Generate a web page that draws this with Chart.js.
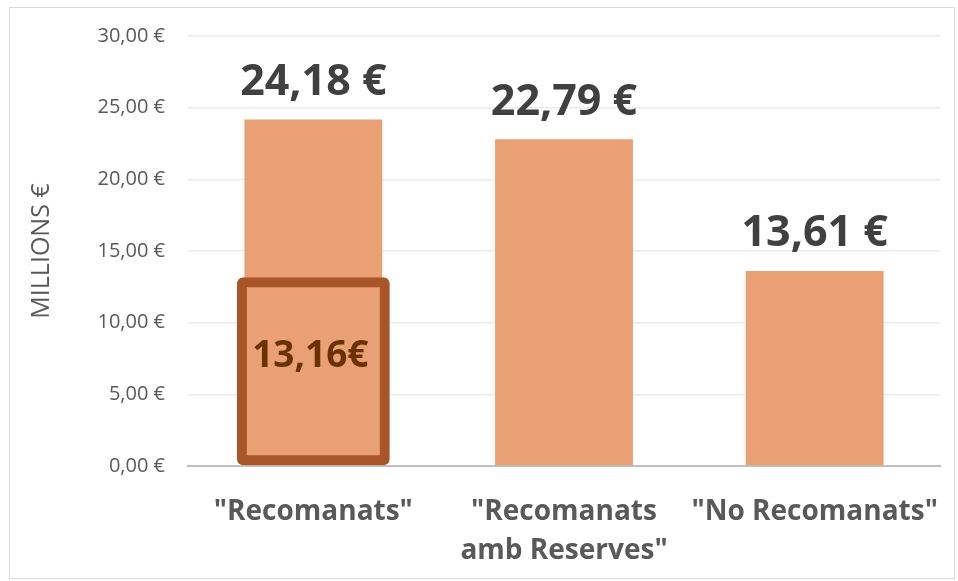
<!DOCTYPE html>
<html>
<head>
<meta charset="utf-8">
<script src="https://cdn.jsdelivr.net/npm/chart.js@4/dist/chart.umd.min.js"></script>
<style>
  html, body { margin: 0; padding: 0; background: #ffffff; }
  #wrap { width: 958px; height: 581px; position: relative; }
</style>
</head>
<body>
<div id="wrap"><canvas id="c" width="958" height="581"></canvas></div>
<script>
const categories = [['"Recomanats"'], ['"Recomanats', 'amb Reserves"'], ['"No Recomanats"']];
const totals = [24.18, 22.79, 13.61];
const valueLabels = ['24,18 €', '22,79 €', '13,61 €'];
const highlight = [13.16, null, null];
const highlightLabels = ['13,16€', '', ''];
const yTickLabels = ['0,00 €', '5,00 €', '10,00 €', '15,00 €', '20,00 €', '25,00 €', '30,00 €'];
const yAxisTitle = 'MILLIONS €';

const FONT = '"Open Sans", "Noto Sans", sans-serif';

const bgBorder = {
  id: 'bgBorder',
  beforeDraw(chart) {
    const ctx = chart.ctx;
    ctx.save();
    ctx.fillStyle = '#ffffff';
    ctx.fillRect(0, 0, chart.width, chart.height);
    ctx.strokeStyle = '#D9D9D9';
    ctx.lineWidth = 1;
    ctx.strokeRect(9.5, 7.5, 945, 571);
    ctx.restore();
  }
};

const labelsPlugin = {
  id: 'labelsPlugin',
  afterDatasetsDraw(chart) {
    const ctx = chart.ctx;
    ctx.save();
    ctx.textAlign = 'center';
    ctx.textBaseline = 'middle';
    const m0 = chart.getDatasetMeta(0);
    m0.data.forEach((el, i) => {
      ctx.font = 'bold 43px ' + FONT;
      ctx.fillStyle = '#404040';
      ctx.fillText(valueLabels[i], el.x, el.y - 37);
    });
    const m1 = chart.getDatasetMeta(1);
    m1.data.forEach((el, i) => {
      if (highlight[i] == null) return;
      ctx.font = 'bold 37px ' + FONT;
      ctx.fillStyle = '#6B3200';
      ctx.fillText(highlightLabels[i], el.x - 3, el.y + (el.base - el.y) * 0.42);
    });
    ctx.restore();
  }
};

new Chart(document.getElementById('c'), {
  type: 'bar',
  data: {
    labels: categories,
    datasets: [
      {
        data: totals,
        backgroundColor: 'rgb(233,160,117)',
        barPercentage: 0.55,
        categoryPercentage: 1,
        grouped: false,
        order: 2
      },
      {
        data: highlight,
        backgroundColor: 'rgba(0,0,0,0)',
        borderColor: '#A9552A',
        borderWidth: 10,
        borderRadius: 6,
        borderSkipped: false,
        barPercentage: 0.61,
        categoryPercentage: 1,
        grouped: false,
        order: 1
      }
    ]
  },
  options: {
    responsive: false,
    animation: false,
    devicePixelRatio: 1,
    layout: { padding: { top: 36, right: 18, left: 0, bottom: 0 } },
    plugins: {
      legend: { display: false },
      tooltip: { enabled: false }
    },
    scales: {
      x: {
        grid: { display: false, drawTicks: false },
        border: { display: true, color: '#BFBFBF', width: 2 },
        ticks: {
          color: '#595959',
          font: { family: FONT, size: 28, weight: 'bold', lineHeight: 1.39 },
          padding: 27,
          maxRotation: 0,
          autoSkip: false
        },
        afterFit(scale) {
          scale.height = 115;
          scale.paddingLeft = 0;
          scale.paddingRight = 0;
        }
      },
      y: {
        min: 0,
        max: 30,
        grid: { color: '#EBEBEB', lineWidth: 1.5, drawTicks: false },
        border: { display: false },
        ticks: {
          stepSize: 5,
          color: '#595959',
          font: { family: FONT, size: 20 },
          padding: 23,
          callback: (v, i) => yTickLabels[i]
        },
        title: {
          display: true,
          text: yAxisTitle,
          color: '#595959',
          font: { family: FONT, size: 25 },
          padding: { top: 27, bottom: 0 }
        },
        afterFit(scale) { scale.width = 188; }
      }
    }
  },
  plugins: [bgBorder, labelsPlugin]
});
</script>
</body>
</html>
